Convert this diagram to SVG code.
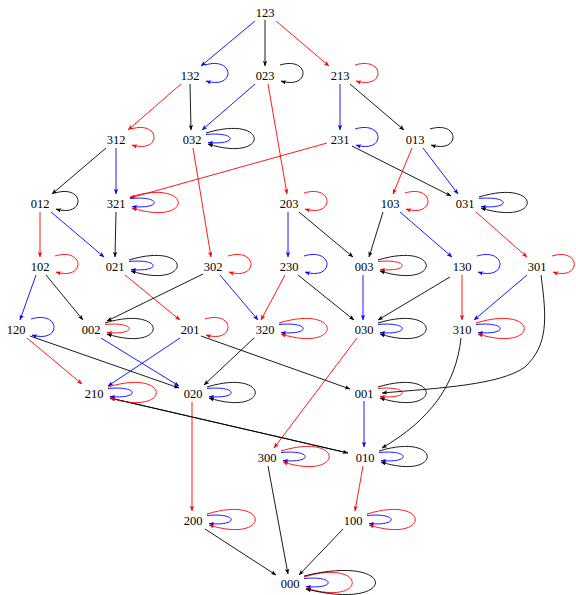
<svg xmlns="http://www.w3.org/2000/svg" width="576" height="595" viewBox="0 0 576 595">
<style>
.e{fill:none;stroke-width:0.9}
.k{stroke:#000;marker-end:url(#ak)}
.r{stroke:#f00;marker-end:url(#ar)}
.b{stroke:#00f;marker-end:url(#ab)}
text{font-family:"Liberation Serif","DejaVu Serif",serif;font-size:12.5px;fill:#000;text-anchor:middle}
</style>
<defs>
<marker id="ak" viewBox="0 0 10 8" refX="9.5" refY="4" markerWidth="5.5" markerHeight="4.4" markerUnits="userSpaceOnUse" orient="auto"><path d="M0,0 L10,4 L0,8 L2.5,4 z" fill="#000"/></marker>
<marker id="ar" viewBox="0 0 10 8" refX="9.5" refY="4" markerWidth="5.5" markerHeight="4.4" markerUnits="userSpaceOnUse" orient="auto"><path d="M0,0 L10,4 L0,8 L2.5,4 z" fill="#f00"/></marker>
<marker id="ab" viewBox="0 0 10 8" refX="9.5" refY="4" markerWidth="5.5" markerHeight="4.4" markerUnits="userSpaceOnUse" orient="auto"><path d="M0,0 L10,4 L0,8 L2.5,4 z" fill="#00f"/></marker>
</defs>
<g id="connectors">
<path class="e b" d="M255,21 L201,66"/>
<path class="e k" d="M265,20 L265,66"/>
<path class="e r" d="M276,21 L329,66"/>
<path class="e r" d="M181,84 L128,130"/>
<path class="e k" d="M190,84 L191,130"/>
<path class="e b" d="M255,84 L202,130"/>
<path class="e r" d="M268,84 L287,194"/>
<path class="e b" d="M340,84 L340,130"/>
<path class="e k" d="M350,84 L404,130"/>
<path class="e k" d="M106,148 L52,194"/>
<path class="e b" d="M116,148 L116,194"/>
<path class="e r" d="M193,148 L211,257"/>
<path class="e r" d="M327,143 L130,198"/>
<path class="e k" d="M352,146 L451,196"/>
<path class="e r" d="M412,148 L393,194"/>
<path class="e b" d="M423,148 L458,194"/>
<path class="e r" d="M40,212 L40,257"/>
<path class="e b" d="M51,212 L104,257"/>
<path class="e k" d="M116,212 L115,257"/>
<path class="e b" d="M288,212 L288,257"/>
<path class="e k" d="M299,212 L353,257"/>
<path class="e k" d="M383,212 L369,257"/>
<path class="e b" d="M400,212 L452,257"/>
<path class="e r" d="M476,212 L527,257"/>
<path class="e b" d="M36,275 L20,320"/>
<path class="e k" d="M46,275 L83,320"/>
<path class="e r" d="M125,275 L180,320"/>
<path class="e k" d="M203,274 L107,321"/>
<path class="e b" d="M220,275 L258,320"/>
<path class="e r" d="M285,275 L261,320"/>
<path class="e k" d="M298,275 L354,320"/>
<path class="e b" d="M363,275 L363,320"/>
<path class="e k" d="M450,277 L378,320"/>
<path class="e r" d="M462,275 L462,320"/>
<path class="e b" d="M527,275 L474,320"/>
<path class="e k" d="M541,275 C547,320 548,345 525,367 C500,385 440,388 382,393"/>
<path class="e k" d="M461,338 C456,385 430,420 382,448"/>
<path class="e r" d="M27,338 L82,384"/>
<path class="e k" d="M30,336 L179,388"/>
<path class="e b" d="M101,338 L179,386"/>
<path class="e b" d="M180,338 L108,386"/>
<path class="e k" d="M201,336 L350,389"/>
<path class="e k" d="M254,338 L204,385"/>
<path class="e r" d="M357,338 L274,448"/>
<path class="e k" d="M110,398 L348,453"/>
<path class="e k" d="M348,453 L110,398"/>
<path class="e r" d="M192,402 L192,511"/>
<path class="e b" d="M364,401 L364,447"/>
<path class="e k" d="M268,466 L288,574"/>
<path class="e r" d="M363,466 L355,511"/>
<path class="e k" d="M205,529 L276,575"/>
<path class="e k" d="M343,529 L299,575"/>
<!-- single self loops -->
<path class="e b" d="M205,65 C235,56 236,90 206,81"/>
<path class="e k" d="M280,65 C310,56 311,90 281,81"/>
<path class="e r" d="M355,65 C385,56 386,90 356,81"/>
<path class="e r" d="M131,129 C161,120 162,154 132,145"/>
<path class="e b" d="M355,129 C385,120 386,154 356,145"/>
<path class="e k" d="M430,129 C460,120 461,154 431,145"/>
<path class="e k" d="M55,193 C85,184 86,218 56,209"/>
<path class="e r" d="M304,193 C334,184 335,218 305,209"/>
<path class="e r" d="M405,193 C435,184 436,218 406,209"/>
<path class="e r" d="M55,256 C85,247 86,281 56,272"/>
<path class="e r" d="M228,256 C258,247 259,281 229,272"/>
<path class="e b" d="M304,256 C334,247 335,281 305,272"/>
<path class="e b" d="M477,256 C507,247 508,281 478,272"/>
<path class="e r" d="M552,256 C581,247 582,281 553,272"/>
<path class="e b" d="M31,319 C61,310 62,344 32,335"/>
<path class="e r" d="M205,319 C235,310 236,344 206,335"/>
<!-- nested self loops -->
<path class="e b" d="M206,134.5 C238,131.5 238,145.5 208,142.5"/>
<path class="e k" d="M206,133 C270,113.5 270,163.5 208,144"/>
<path class="e b" d="M130,198.5 C162,195.5 162,209.5 132,206.5"/>
<path class="e r" d="M130,197 C194,177.5 194,227.5 132,208"/>
<path class="e b" d="M479,198.5 C511,195.5 511,209.5 481,206.5"/>
<path class="e k" d="M479,197 C543,177.5 543,227.5 481,208"/>
<path class="e b" d="M129,261.5 C161,258.5 161,272.5 131,269.5"/>
<path class="e k" d="M129,260 C193,240.5 193,290.5 131,271"/>
<path class="e r" d="M378,261.5 C410,258.5 410,272.5 380,269.5"/>
<path class="e k" d="M378,260 C442,240.5 442,290.5 380,271"/>
<path class="e r" d="M105,324.5 C137,321.5 137,335.5 107,332.5"/>
<path class="e k" d="M105,323 C169,303.5 169,353.5 107,334"/>
<path class="e b" d="M279,324.5 C311,321.5 311,335.5 281,332.5"/>
<path class="e r" d="M279,323 C343,303.5 343,353.5 281,334"/>
<path class="e b" d="M378,324.5 C410,321.5 410,335.5 380,332.5"/>
<path class="e k" d="M378,323 C442,303.5 442,353.5 380,334"/>
<path class="e b" d="M476,324.5 C508,321.5 508,335.5 478,332.5"/>
<path class="e r" d="M476,323 C540,303.5 540,353.5 478,334"/>
<path class="e b" d="M108,388.5 C140,385.5 140,399.5 110,396.5"/>
<path class="e r" d="M108,387 C172,367.5 172,417.5 110,398"/>
<path class="e b" d="M207,388.5 C239,385.5 239,399.5 209,396.5"/>
<path class="e k" d="M207,387 C271,367.5 271,417.5 209,398"/>
<path class="e r" d="M378,388.5 C410,385.5 410,399.5 380,396.5"/>
<path class="e k" d="M378,387 C442,367.5 442,417.5 380,398"/>
<path class="e b" d="M281,452.5 C313,449.5 313,463.5 283,460.5"/>
<path class="e r" d="M281,451 C345,431.5 345,481.5 283,462"/>
<path class="e b" d="M379,452.5 C411,449.5 411,463.5 381,460.5"/>
<path class="e k" d="M379,451 C443,431.5 443,481.5 381,462"/>
<path class="e b" d="M207,515.5 C239,512.5 239,526.5 209,523.5"/>
<path class="e r" d="M207,514 C271,494.5 271,544.5 209,525"/>
<path class="e b" d="M367,515.5 C399,512.5 399,526.5 369,523.5"/>
<path class="e r" d="M367,514 C431,494.5 431,544.5 369,525"/>
<path class="e b" d="M304,578.5 C336,575.5 336,589.5 306,586.5"/>
<path class="e r" d="M304,577 C368,557.5 368,607.5 306,588"/>
<path class="e k" d="M304,576 C399,552.5 399,612.5 306,589"/>
</g>
<g id="n123"><text x="265" y="16.5">123</text></g>
<g id="n132"><text x="190" y="79.5">132</text></g>
<g id="n023"><text x="265" y="79.5">023</text></g>
<g id="n213"><text x="340" y="79.5">213</text></g>
<g id="n312"><text x="116" y="143.5">312</text></g>
<g id="n032"><text x="192" y="143.5">032</text></g>
<g id="n231"><text x="340" y="143.5">231</text></g>
<g id="n013"><text x="415" y="143.5">013</text></g>
<g id="n012"><text x="40" y="207.5">012</text></g>
<g id="n321"><text x="116" y="207.5">321</text></g>
<g id="n203"><text x="289" y="207.5">203</text></g>
<g id="n103"><text x="390" y="207.5">103</text></g>
<g id="n031"><text x="465" y="207.5">031</text></g>
<g id="n102"><text x="40" y="270.5">102</text></g>
<g id="n021"><text x="115" y="270.5">021</text></g>
<g id="n302"><text x="213" y="270.5">302</text></g>
<g id="n230"><text x="289" y="270.5">230</text></g>
<g id="n003"><text x="364" y="270.5">003</text></g>
<g id="n130"><text x="462" y="270.5">130</text></g>
<g id="n301"><text x="537" y="270.5">301</text></g>
<g id="n120"><text x="16" y="333.5">120</text></g>
<g id="n002"><text x="91" y="333.5">002</text></g>
<g id="n201"><text x="190" y="333.5">201</text></g>
<g id="n320"><text x="265" y="333.5">320</text></g>
<g id="n030"><text x="364" y="333.5">030</text></g>
<g id="n310"><text x="462" y="333.5">310</text></g>
<g id="n210"><text x="94" y="397.5">210</text></g>
<g id="n020"><text x="193" y="397.5">020</text></g>
<g id="n001"><text x="364" y="397.5">001</text></g>
<g id="n300"><text x="267" y="461.5">300</text></g>
<g id="n010"><text x="365" y="461.5">010</text></g>
<g id="n200"><text x="193" y="524.5">200</text></g>
<g id="n100"><text x="353" y="524.5">100</text></g>
<g id="n000"><text x="290" y="587.5">000</text></g>
</svg>
